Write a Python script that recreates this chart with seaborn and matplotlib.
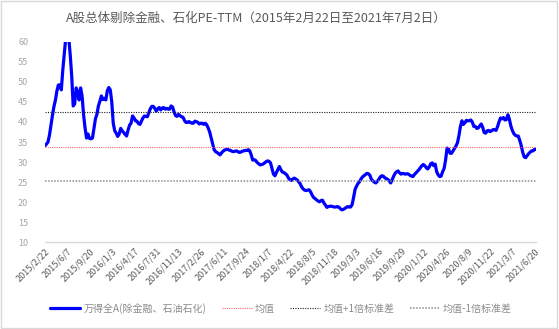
import matplotlib
matplotlib.use("Agg")
import matplotlib.pyplot as plt
import seaborn as sns
import pandas as pd
import numpy as np
from matplotlib.patches import Rectangle
from matplotlib.lines import Line2D

# Weekly PE-TTM of the Wind All-A index excluding financials and petrochemicals
pe_ttm = [
    34.1, 34.5, 35.0, 36.7, 39.2, 41.6, 43.8, 45.4, 47.7, 49.2,
    49.3, 48.0, 53.0, 57.0, 61.0, 62.0, 61.0, 56.7, 51.5, 44.0,
    44.5, 48.5, 47.5, 45.5, 48.5, 46.5, 41.8, 38.5, 36.0, 37.0,
    35.9, 35.8, 36.0, 38.4, 40.8, 41.9, 44.0, 45.2, 46.5, 45.6,
    45.9, 45.5, 47.8, 48.6, 48.0, 45.0, 39.7, 37.8, 37.2, 36.4,
    37.0, 38.4, 37.8, 37.4, 36.9, 36.5, 38.0, 39.2, 39.7, 41.5,
    41.0, 40.3, 40.2, 39.6, 39.4, 40.2, 41.0, 41.5, 41.4, 41.3,
    42.3, 43.3, 43.9, 43.9, 43.4, 42.7, 43.3, 43.6, 43.0, 43.5,
    43.6, 43.2, 43.4, 43.2, 43.2, 44.0, 43.7, 42.5, 41.6, 41.4,
    41.9, 41.6, 41.3, 41.2, 40.4, 39.9, 39.9, 40.1, 39.9, 39.7,
    39.7, 40.2, 40.1, 39.9, 39.5, 39.7, 39.7, 39.4, 39.7, 39.3,
    38.5, 37.5, 36.0, 34.4, 33.1, 32.6, 32.4, 32.1, 31.8, 32.3,
    32.7, 33.0, 33.1, 33.2, 33.0, 32.9, 32.7, 32.6, 32.7, 32.8,
    32.6, 32.4, 32.5, 32.7, 32.8, 32.9, 32.9, 33.1, 32.8, 31.8,
    30.5, 30.6, 30.4, 29.9, 29.6, 29.3, 29.4, 29.5, 29.8, 30.1,
    30.3, 30.2, 29.8, 28.4, 27.0, 26.6, 27.4, 28.2, 28.9, 28.1,
    27.5, 27.4, 27.1, 26.8, 26.1, 25.6, 25.4, 25.8, 26.0, 25.8,
    25.5, 25.1, 24.6, 23.8, 23.3, 23.0, 22.9, 23.0, 23.1, 22.6,
    21.8, 21.2, 20.9, 20.6, 20.3, 20.1, 20.4, 20.5, 19.8, 19.3,
    18.7, 18.9, 19.0, 19.0, 18.9, 18.8, 18.8, 18.9, 18.8, 18.4,
    18.1, 18.2, 18.4, 18.7, 18.9, 18.8, 18.8, 19.4, 21.2, 23.2,
    24.0, 24.7, 25.1, 25.8, 26.3, 26.6, 26.9, 27.2, 27.1, 26.7,
    25.7, 25.3, 25.0, 24.8, 25.2, 25.7, 26.3, 26.6, 26.5, 26.1,
    25.9, 25.7, 25.3, 24.8, 25.6, 26.5, 27.2, 27.6, 27.8, 27.3,
    27.0, 27.2, 27.1, 27.0, 27.1, 27.0, 26.7, 26.5, 26.4, 26.9,
    27.3, 27.7, 28.1, 28.6, 29.1, 29.4, 29.1, 28.6, 28.3, 28.8,
    29.6, 29.8, 29.1, 29.5, 27.6, 26.8, 26.4, 26.5, 27.6, 28.4,
    30.5, 33.5, 33.3, 32.2, 32.2, 32.8, 33.4, 34.0, 34.8, 36.6,
    38.9, 40.3, 39.4, 39.8, 40.4, 40.3, 40.3, 40.5, 40.0, 38.9,
    38.9, 38.4, 38.5, 39.0, 39.5, 38.7, 37.4, 37.2, 37.8, 37.9,
    37.6, 37.8, 38.1, 38.1, 37.9, 38.8, 40.0, 41.0, 40.8, 41.1,
    40.5, 40.6, 41.8, 40.7, 39.0, 37.9, 37.1, 36.7, 36.5, 36.5,
    35.4, 34.1, 32.4, 31.3, 31.1, 31.6, 32.1, 32.5, 32.8, 32.8,
    33.2, 33.2,
]
start_date = "2015-02-22"
tick_step = 15

mean_pe = 33.85
std_pe = 8.55

series_label = "万得全A(除金融、石油石化)"
mean_label = "均值"
upper_label = "均值+1倍标准差"
lower_label = "均值-1倍标准差"
title = "A股总体剔除金融、石化PE-TTM（2015年2月22日至2021年7月2日）"

sns.set_theme(style="white")
plt.rcParams["font.family"] = ["Noto Sans CJK SC", "DejaVu Sans"]

dates = pd.date_range(start_date, periods=len(pe_ttm), freq="7D")
df = pd.DataFrame({"idx": np.arange(len(pe_ttm)), "pe": pe_ttm})

fig = plt.figure(figsize=(5.59, 3.29), dpi=100)
fig.patch.set_facecolor("white")
ax = fig.add_axes([0.0805, 0.2635, 0.8785, 0.6095])

sns.lineplot(data=df, x="idx", y="pe", ax=ax, color="#0000FF", linewidth=2.3,
             label=series_label, legend=False)
ax.axhline(mean_pe, color="#FF6666", linestyle=(0, (1, 1)), linewidth=0.8)
ax.axhline(mean_pe + std_pe, color="#222222", linestyle=(0, (1, 1.2)), linewidth=0.8)
ax.axhline(mean_pe - std_pe, color="#8C8C8C", linestyle=(0, (1, 1)), linewidth=1.1)

ax.set_xlim(0, len(pe_ttm) - 1)
ax.set_ylim(10, 60)
ax.set_yticks(np.arange(10, 61, 5))
ax.set_xlabel("")
ax.set_ylabel("")

tick_pos = list(range(0, len(pe_ttm), tick_step))
ax.set_xticks(tick_pos)
ax.set_xticklabels([f"{dates[i].year}/{dates[i].month}/{dates[i].day}" for i in tick_pos],
                   rotation=45, ha="right", rotation_mode="anchor",
                   fontsize=6.5, color="#595959")
ax.tick_params(axis="y", labelsize=6.5, labelcolor="#A6A6A6", length=0, pad=12)
ax.tick_params(axis="x", length=0, pad=3)

for side in ["left", "right", "top"]:
    ax.spines[side].set_visible(False)
ax.spines["bottom"].set_color("#D9D9D9")
ax.spines["bottom"].set_linewidth(1.0)
ax.grid(False)

fig.text(0.459, 0.945, title, ha="center", va="center", fontsize=9.0, color="#595959")

handles = [
    Line2D([], [], color="#0000FF", linewidth=2.3),
    Line2D([], [], color="#FF6666", linestyle=(0, (1, 1)), linewidth=0.8),
    Line2D([], [], color="#222222", linestyle=(0, (1, 1.2)), linewidth=0.8),
    Line2D([], [], color="#8C8C8C", linestyle=(0, (1, 1)), linewidth=1.1),
]
labels = [series_label, mean_label, upper_label, lower_label]
leg = fig.legend(handles, labels, loc="center", bbox_to_anchor=(0.503, 0.062), ncol=4,
                 frameon=False, fontsize=7.2, handlelength=3.0, handletextpad=0.35,
                 columnspacing=1.5)
for t in leg.get_texts():
    t.set_color("#8C8C8C")

fig.patches.append(Rectangle((0.002, 0.003), 0.994, 0.994, transform=fig.transFigure,
                             fill=False, edgecolor="#D9D9D9", linewidth=1.0))

fig.savefig("out.png", dpi=100, facecolor="white")
